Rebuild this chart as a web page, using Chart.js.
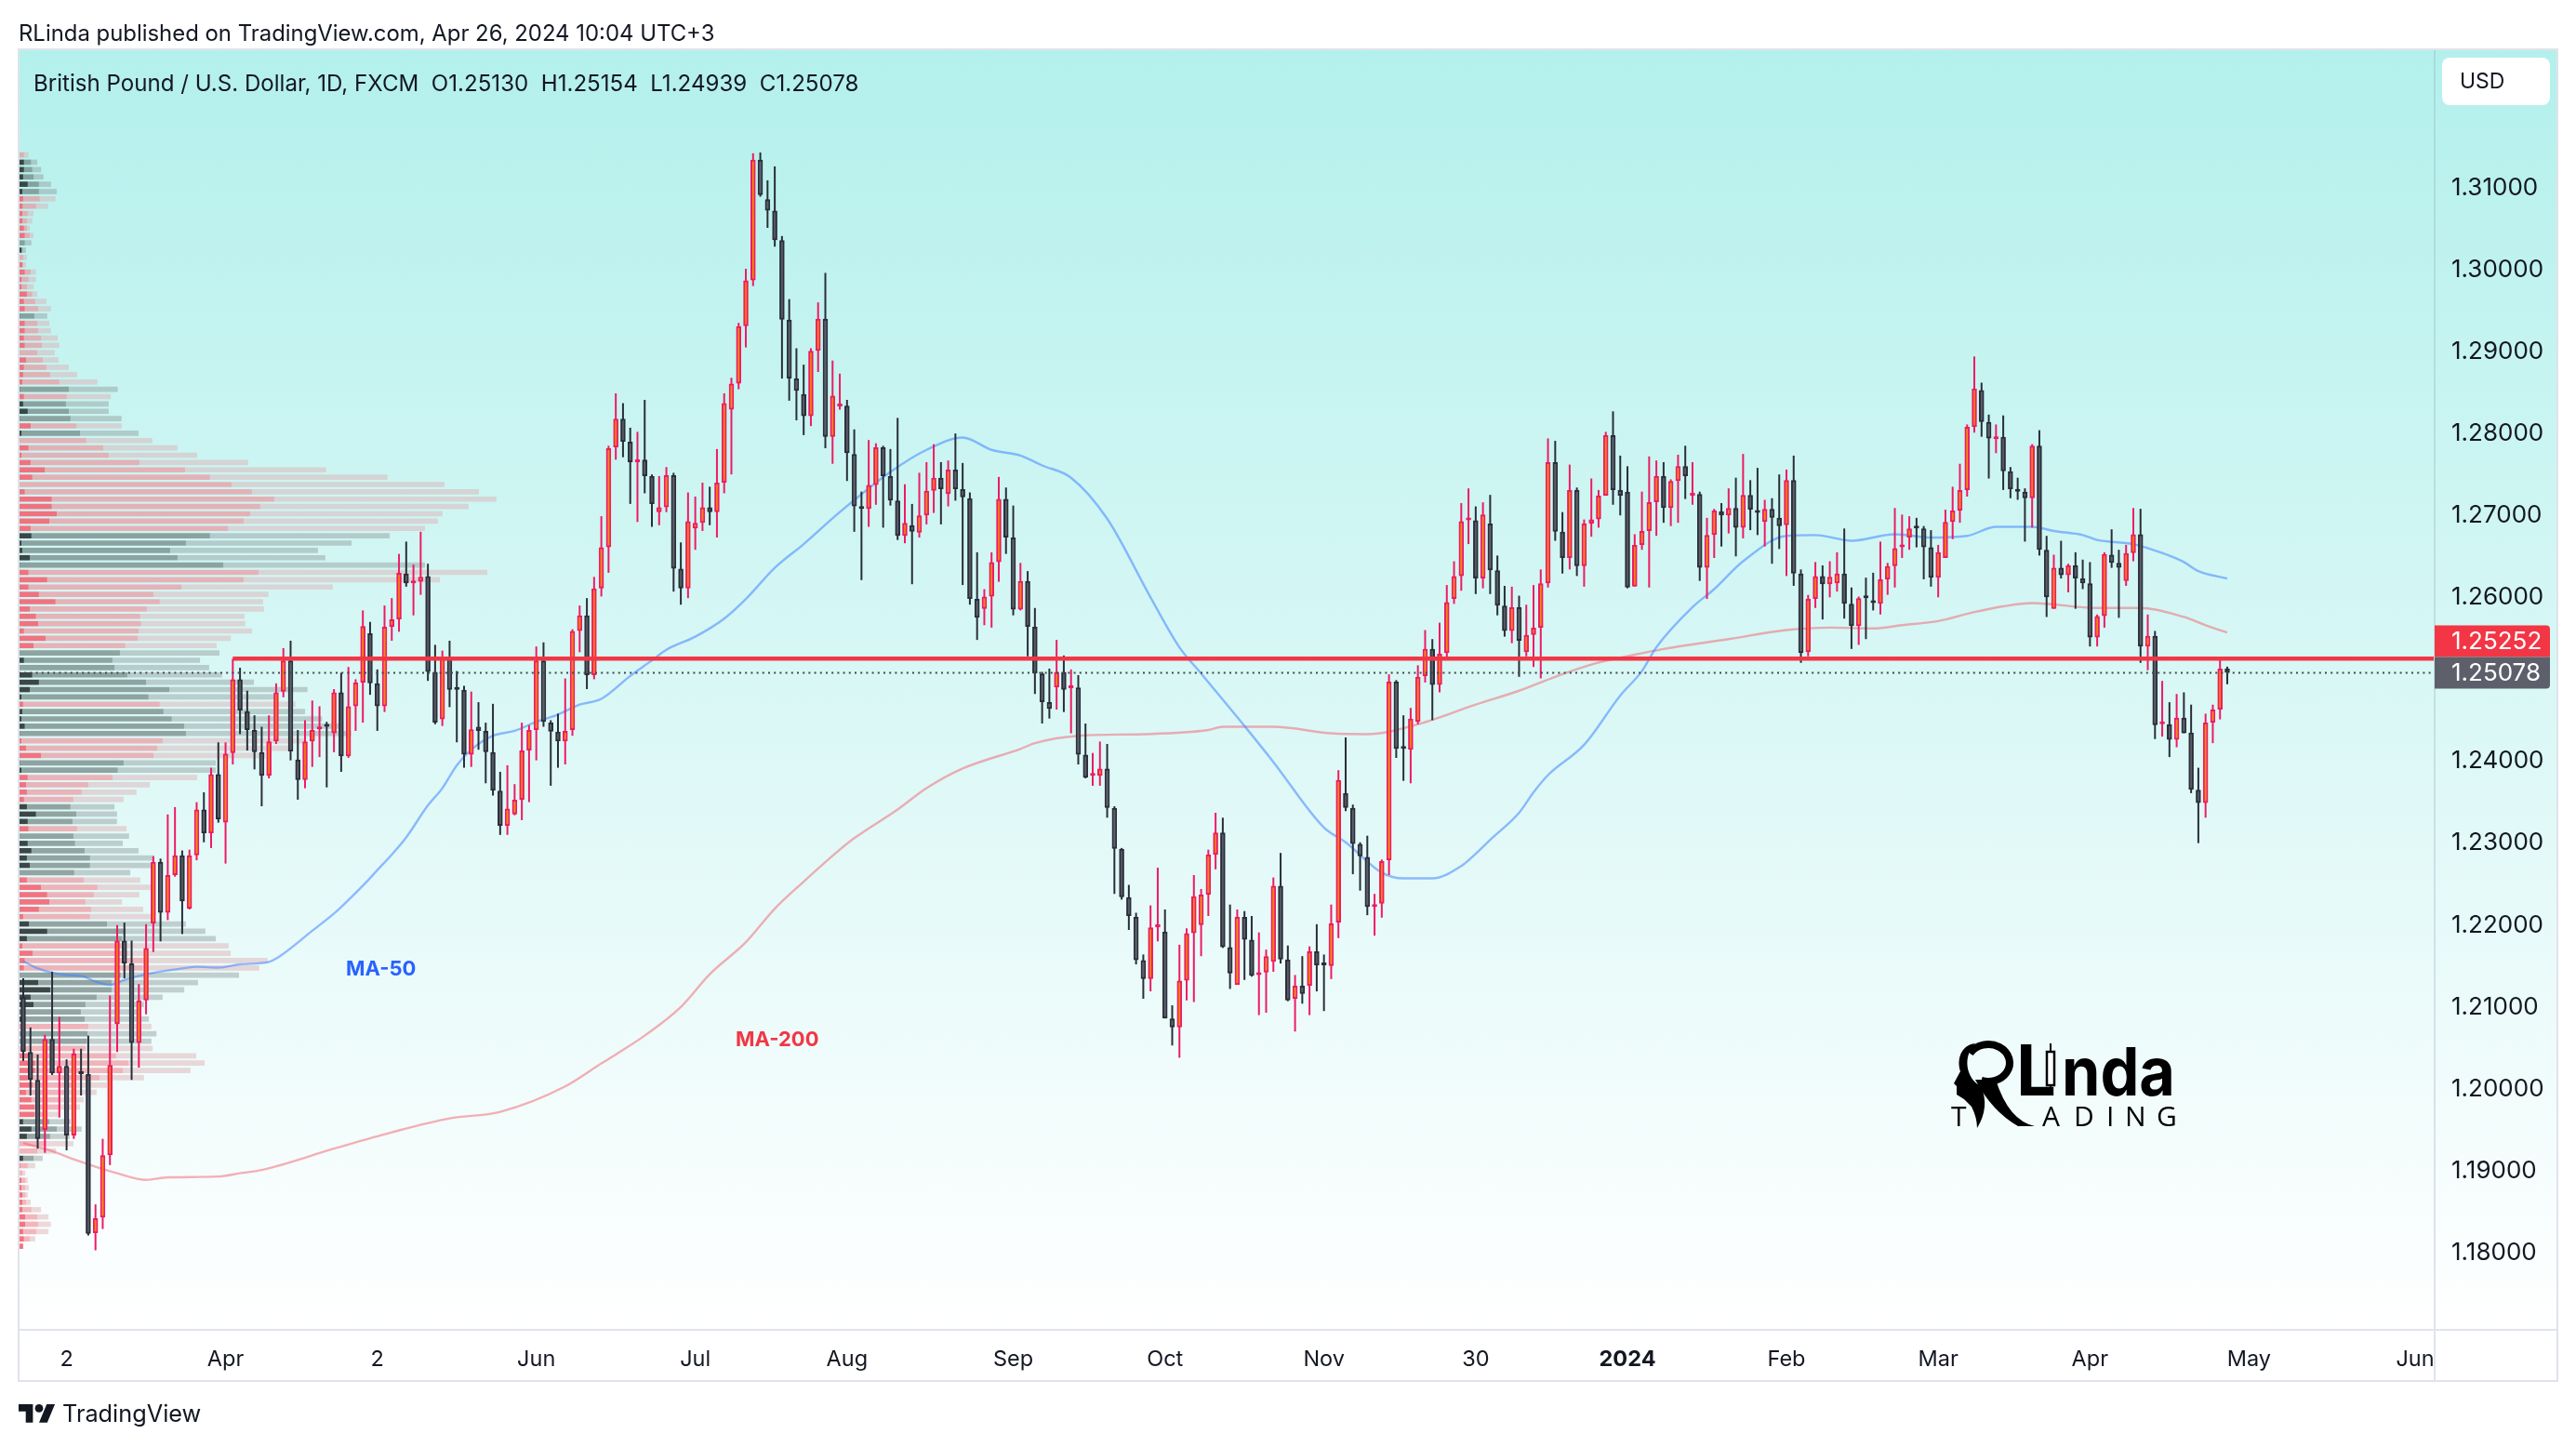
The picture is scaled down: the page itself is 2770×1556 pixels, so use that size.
<!DOCTYPE html>
<html>
<head>
<meta charset="utf-8">
<title>GBPUSD</title>
<script src="https://cdn.jsdelivr.net/npm/chart.js@4/dist/chart.umd.min.js"></script>
<style>
  body { margin: 0; background: #fff; width: 2770px; height: 1556px; overflow: hidden; position: relative; font-family: Inter, sans-serif; color: #131722; }
  canvas { display: block; }
  .txt { position: absolute; white-space: pre; line-height: 1; }
  #published { left: 20px; top: 24px; font-size: 23.9px; }
  #title { left: 36px; top: 78px; font-size: 24.1px; }
  #brand { left: 67px; top: 1507px; font-size: 25.3px; }
</style>
</head>
<body>
<canvas id="chart" width="2770" height="1556"></canvas>
<div class="txt" id="published">RLinda published on TradingView.com, Apr 26, 2024 10:04 UTC+3</div>
<div class="txt" id="title">British Pound / U.S. Dollar, 1D, FXCM  O1.25130  H1.25154  L1.24939  C1.25078</div>
<div class="txt" id="brand">TradingView</div>
<script>
'use strict';

// Daily candles

const opens = [
  1.2112,1.2045,1.2011,1.1950,1.2061,1.2019,1.2028,1.1943,1.2021,1.2018,
  1.1824,1.1843,1.1919,1.2079,1.2181,1.2153,1.2056,1.2108,1.2202,1.2277,
  1.2215,1.2261,1.2285,1.2220,1.2285,1.2341,1.2312,1.2384,1.2325,1.2410,
  1.2500,1.2461,1.2438,1.2411,1.2382,1.2424,1.2485,1.2523,1.2402,1.2377,
  1.2424,1.2439,1.2443,1.2434,1.2484,1.2406,1.2467,1.2496,1.2556,1.2495,
  1.2467,1.2564,1.2573,1.2629,1.2617,1.2619,1.2626,1.2509,1.2451,1.2527,
  1.2488,1.2487,1.2408,1.2442,1.2437,1.2411,1.2364,1.2321,1.2335,1.2353,
  1.2413,1.2438,1.2523,1.2447,1.2436,1.2424,1.2438,1.2559,1.2578,1.2505,
  1.2611,1.2661,1.2783,1.2818,1.2790,1.2765,1.2768,1.2748,1.2704,1.2710,
  1.2749,1.2635,1.2611,1.2684,1.2691,1.2710,1.2704,1.2740,1.2829,1.2861,
  1.2931,1.2987,1.3134,1.3086,1.3072,1.3036,1.2939,1.2867,1.2848,1.2821,
  1.2901,1.2940,1.2796,1.2833,1.2834,1.2775,1.2710,1.2708,1.2737,1.2783,
  1.2748,1.2718,1.2675,1.2688,1.2679,1.2700,1.2730,1.2746,1.2726,1.2756,
  1.2732,1.2721,1.2598,1.2586,1.2601,1.2643,1.2720,1.2673,1.2585,1.2620,
  1.2564,1.2507,1.2472,1.2490,1.2509,1.2489,1.2490,1.2408,1.2382,1.2382,
  1.2391,1.2343,1.2293,1.2234,1.2210,1.2157,1.2134,1.2197,1.2192,1.2086,
  1.2075,1.2132,1.2190,1.2200,1.2237,1.2286,1.2313,1.2173,1.2127,1.2210,
  1.2182,1.2139,1.2142,1.2155,1.2248,1.2158,1.2110,1.2126,1.2126,1.2168,
  1.2152,1.2150,1.2203,1.2361,1.2343,1.2299,1.2283,1.2222,1.2226,1.2279,
  1.2497,1.2416,1.2414,1.2448,1.2504,1.2537,1.2493,1.2532,1.2598,1.2626,
  1.2694,1.2694,1.2623,1.2690,1.2633,1.2590,1.2559,1.2588,1.2533,1.2554,
  1.2563,1.2617,1.2765,1.2680,1.2648,1.2731,1.2638,1.2690,1.2695,1.2724,
  1.2798,1.2731,1.2729,1.2613,1.2664,1.2681,1.2716,1.2748,1.2709,1.2742,
  1.2760,1.2724,1.2726,1.2636,1.2676,1.2705,1.2700,1.2709,1.2685,1.2725,
  1.2706,1.2692,1.2708,1.2697,1.2688,1.2743,1.2629,1.2533,1.2598,1.2626,
  1.2616,1.2617,1.2629,1.2592,1.2565,1.2600,1.2595,1.2592,1.2622,1.2638,
  1.2661,1.2673,1.2685,1.2684,1.2661,1.2624,1.2648,1.2692,1.2706,1.2731,
  1.2808,1.2853,1.2814,1.2793,1.2796,1.2754,1.2731,1.2729,1.2721,1.2785,
  1.2658,1.2586,1.2636,1.2627,1.2639,1.2623,1.2617,1.2551,1.2577,1.2652,
  1.2642,1.2620,1.2654,1.2677,1.2540,1.2553,1.2445,1.2445,1.2426,1.2453,
  1.2435,1.2365,1.2349,1.2447,1.2463,1.2513
];
const highs = [
  1.2135,1.2075,1.2042,1.2066,1.2143,1.2088,1.2036,1.2049,1.2049,1.2065,
  1.1859,1.1939,1.2114,1.2200,1.2203,1.2181,1.2128,1.2201,1.2284,1.2281,
  1.2335,1.2344,1.2291,1.2292,1.2350,1.2362,1.2392,1.2423,1.2423,1.2525,
  1.2514,1.2486,1.2456,1.2442,1.2456,1.2495,1.2538,1.2547,1.2438,1.2450,
  1.2474,1.2467,1.2448,1.2488,1.2508,1.2515,1.2500,1.2584,1.2570,1.2512,
  1.2590,1.2599,1.2653,1.2668,1.2640,1.2680,1.2641,1.2542,1.2535,1.2547,
  1.2510,1.2492,1.2485,1.2472,1.2447,1.2470,1.2387,1.2395,1.2372,1.2447,
  1.2444,1.2540,1.2545,1.2450,1.2458,1.2501,1.2561,1.2590,1.2599,1.2625,
  1.2699,1.2785,1.2849,1.2837,1.2807,1.2802,1.2841,1.2750,1.2748,1.2759,
  1.2752,1.2667,1.2728,1.2723,1.2740,1.2735,1.2781,1.2849,1.2868,1.2935,
  1.3001,1.3142,1.3143,1.3109,1.3126,1.3041,1.2964,1.2904,1.2884,1.2904,
  1.2960,1.2996,1.2889,1.2873,1.2841,1.2805,1.2729,1.2792,1.2788,1.2785,
  1.2781,1.2819,1.2738,1.2714,1.2752,1.2765,1.2787,1.2765,1.2767,1.2800,
  1.2764,1.2728,1.2655,1.2610,1.2655,1.2747,1.2734,1.2712,1.2642,1.2632,
  1.2587,1.2509,1.2513,1.2548,1.2529,1.2512,1.2505,1.2446,1.2410,1.2424,
  1.2421,1.2345,1.2294,1.2249,1.2215,1.2164,1.2224,1.2270,1.2219,1.2102,
  1.2176,1.2196,1.2261,1.2244,1.2292,1.2337,1.2331,1.2225,1.2219,1.2217,
  1.2211,1.2191,1.2170,1.2258,1.2288,1.2175,1.2139,1.2162,1.2174,1.2201,
  1.2164,1.2225,1.2389,1.2429,1.2347,1.2301,1.2309,1.2238,1.2280,1.2506,
  1.2499,1.2456,1.2465,1.2517,1.2560,1.2549,1.2569,1.2615,1.2644,1.2715,
  1.2733,1.2711,1.2716,1.2725,1.2651,1.2614,1.2613,1.2602,1.2591,1.2615,
  1.2634,1.2794,1.2791,1.2704,1.2762,1.2734,1.2695,1.2745,1.2731,1.2802,
  1.2827,1.2773,1.2760,1.2677,1.2729,1.2772,1.2767,1.2765,1.2744,1.2774,
  1.2785,1.2765,1.2729,1.2697,1.2708,1.2715,1.2733,1.2746,1.2775,1.2743,
  1.2758,1.2719,1.2721,1.2750,1.2756,1.2773,1.2634,1.2603,1.2643,1.2639,
  1.2644,1.2655,1.2684,1.2612,1.2601,1.2624,1.2630,1.2668,1.2642,1.2709,
  1.2701,1.2699,1.2697,1.2687,1.2682,1.2664,1.2707,1.2735,1.2763,1.2811,
  1.2894,1.2862,1.2823,1.2811,1.2822,1.2759,1.2746,1.2733,1.2787,1.2804,
  1.2675,1.2652,1.2669,1.2641,1.2655,1.2646,1.2643,1.2579,1.2655,1.2683,
  1.2658,1.2664,1.2709,1.2708,1.2579,1.2559,1.2498,1.2472,1.2482,1.2484,
  1.2469,1.2392,1.2458,1.2469,1.2524,1.25154
];
const lows = [
  1.2034,1.1992,1.1927,1.1922,1.2017,1.1965,1.1925,1.1939,1.1992,1.1821,
  1.1803,1.1829,1.1907,1.2045,1.2135,1.2011,1.2026,1.2091,1.2167,1.2180,
  1.2206,1.2259,1.2189,1.2219,1.2279,1.2301,1.2294,1.2325,1.2275,1.2396,
  1.2433,1.2413,1.2390,1.2345,1.2379,1.2421,1.2478,1.2401,1.2353,1.2367,
  1.2393,1.2405,1.2368,1.2411,1.2387,1.2404,1.2437,1.2447,1.2481,1.2437,
  1.2460,1.2547,1.2558,1.2613,1.2578,1.2603,1.2498,1.2445,1.2443,1.2466,
  1.2423,1.2392,1.2393,1.2414,1.2373,1.2358,1.2310,1.2310,1.2334,1.2328,
  1.2350,1.2401,1.2442,1.2370,1.2392,1.2396,1.2431,1.2533,1.2488,1.2500,
  1.2601,1.2630,1.2768,1.2771,1.2714,1.2692,1.2727,1.2686,1.2688,1.2704,
  1.2607,1.2591,1.2599,1.2658,1.2681,1.2688,1.2673,1.2727,1.2750,1.2854,
  1.2905,1.2980,1.3089,1.3051,1.3028,1.2867,1.2840,1.2816,1.2798,1.2809,
  1.2875,1.2782,1.2763,1.2829,1.2742,1.2680,1.2621,1.2686,1.2713,1.2685,
  1.2712,1.2670,1.2666,1.2616,1.2673,1.2689,1.2703,1.2689,1.2711,1.2718,
  1.2615,1.2591,1.2548,1.2566,1.2563,1.2619,1.2653,1.2578,1.2584,1.2528,
  1.2482,1.2446,1.2452,1.2463,1.2460,1.2434,1.2396,1.2379,1.2370,1.2370,
  1.2331,1.2238,1.2231,1.2194,1.2152,1.2110,1.2119,1.2180,1.2086,1.2053,
  1.2038,1.2108,1.2106,1.2162,1.2211,1.2268,1.2172,1.2122,1.2127,1.2133,
  1.2137,1.2090,1.2093,1.2143,1.2153,1.2107,1.2070,1.2104,1.2090,1.2119,
  1.2095,1.2134,1.2184,1.2339,1.2262,1.2242,1.2212,1.2187,1.2209,1.2261,
  1.2404,1.2376,1.2373,1.2445,1.2496,1.2450,1.2484,1.2525,1.2592,1.2608,
  1.2665,1.2604,1.2611,1.2604,1.2578,1.2552,1.2544,1.2503,1.2528,1.2515,
  1.2501,1.2612,1.2669,1.2629,1.2634,1.2626,1.2613,1.2674,1.2685,1.2724,
  1.2713,1.2700,1.2611,1.2613,1.2658,1.2612,1.2675,1.2691,1.2687,1.2691,
  1.2720,1.2713,1.2620,1.2598,1.2648,1.2662,1.2678,1.2650,1.2672,1.2682,
  1.2676,1.2662,1.2641,1.2659,1.2626,1.2614,1.2520,1.2528,1.2587,1.2573,
  1.2600,1.2607,1.2574,1.2537,1.2542,1.2549,1.2584,1.2579,1.2603,1.2612,
  1.2648,1.2658,1.2661,1.2622,1.2613,1.2600,1.2648,1.2671,1.2691,1.2723,
  1.2801,1.2796,1.2745,1.2776,1.2731,1.2721,1.2719,1.2668,1.2685,1.2651,
  1.2576,1.2586,1.2623,1.2606,1.2586,1.2610,1.2540,1.2540,1.2563,1.2636,
  1.2575,1.2614,1.2644,1.2520,1.2511,1.2427,1.2430,1.2405,1.2417,1.2434,
  1.2361,1.2300,1.2331,1.2422,1.2451,1.24939
];
const closes = [
  1.2045,1.2011,1.1939,1.2061,1.2019,1.2028,1.1943,1.2043,1.2018,1.1823,
  1.1842,1.1919,1.2029,1.2181,1.2153,1.2056,1.2108,1.2172,1.2277,1.2215,
  1.2261,1.2285,1.2229,1.2285,1.2341,1.2312,1.2384,1.2329,1.2409,1.2500,
  1.2462,1.2438,1.2411,1.2382,1.2424,1.2484,1.2523,1.2412,1.2377,1.2424,
  1.2438,1.2442,1.2442,1.2484,1.2406,1.2467,1.2496,1.2565,1.2495,1.2467,
  1.2564,1.2573,1.2630,1.2617,1.2619,1.2625,1.2509,1.2447,1.2527,1.2487,
  1.2487,1.2408,1.2439,1.2437,1.2411,1.2364,1.2321,1.2342,1.2353,1.2413,
  1.2438,1.2523,1.2448,1.2436,1.2424,1.2437,1.2559,1.2578,1.2505,1.2611,
  1.2661,1.2782,1.2818,1.2790,1.2765,1.2768,1.2748,1.2714,1.2710,1.2749,
  1.2635,1.2611,1.2693,1.2691,1.2710,1.2704,1.2740,1.2837,1.2861,1.2931,
  1.2987,1.3134,1.3091,1.3072,1.3036,1.2939,1.2867,1.2852,1.2821,1.2901,
  1.2940,1.2796,1.2846,1.2835,1.2776,1.2711,1.2708,1.2737,1.2783,1.2748,
  1.2718,1.2675,1.2691,1.2680,1.2700,1.2730,1.2746,1.2732,1.2756,1.2732,
  1.2722,1.2598,1.2575,1.2601,1.2643,1.2720,1.2673,1.2585,1.2620,1.2564,
  1.2507,1.2472,1.2464,1.2509,1.2487,1.2491,1.2408,1.2380,1.2383,1.2391,
  1.2343,1.2293,1.2234,1.2211,1.2157,1.2134,1.2197,1.2201,1.2086,1.2075,
  1.2132,1.2190,1.2235,1.2237,1.2286,1.2313,1.2173,1.2141,1.2210,1.2182,
  1.2138,1.2142,1.2162,1.2248,1.2158,1.2108,1.2126,1.2116,1.2168,1.2151,
  1.2151,1.2202,1.2377,1.2343,1.2299,1.2284,1.2222,1.2225,1.2278,1.2497,
  1.2415,1.2415,1.2452,1.2503,1.2537,1.2493,1.2531,1.2594,1.2626,1.2693,
  1.2695,1.2623,1.2701,1.2633,1.2590,1.2559,1.2588,1.2547,1.2554,1.2563,
  1.2617,1.2765,1.2680,1.2648,1.2731,1.2638,1.2690,1.2695,1.2724,1.2798,
  1.2731,1.2724,1.2612,1.2664,1.2681,1.2716,1.2748,1.2709,1.2742,1.2760,
  1.2748,1.2726,1.2636,1.2676,1.2706,1.2700,1.2709,1.2685,1.2725,1.2707,
  1.2703,1.2708,1.2697,1.2687,1.2743,1.2629,1.2532,1.2598,1.2626,1.2616,
  1.2625,1.2629,1.2592,1.2565,1.2599,1.2599,1.2593,1.2622,1.2638,1.2660,
  1.2663,1.2684,1.2684,1.2661,1.2624,1.2655,1.2692,1.2706,1.2731,1.2808,
  1.2855,1.2814,1.2794,1.2796,1.2754,1.2732,1.2729,1.2721,1.2785,1.2658,
  1.2600,1.2636,1.2627,1.2639,1.2623,1.2617,1.2551,1.2577,1.2653,1.2642,
  1.2636,1.2654,1.2677,1.2540,1.2553,1.2444,1.2446,1.2426,1.2453,1.2434,
  1.2365,1.2349,1.2447,1.2463,1.2513,1.25078
];

// Moving averages: bar number and value at points
const ma50Index = [0,2,6,8,10,12,14,17,22,24,27,30,34,35,40,43,44,47,49,51,53,56,58,60,62,65,68,71,74,77,80,84,87,89,93,97,100,104,108,113,120,125,130,134,138,141,145,150,156,160,163,169,173,180,183,188,191,195,199,201,203,207,209,211,216,221,224,226,231,234,238,244,248,253,259,264,269,273,278,281,285,287,292,296,299,301,305];
const ma50Values = [1.2156,1.2147,1.2139,1.2138,1.2131,1.2127,1.2133,1.2140,1.2147,1.2149,1.2148,1.2152,1.2155,1.2159,1.2193,1.2214,1.2222,1.2248,1.2267,1.2286,1.2307,1.2346,1.2367,1.2395,1.2414,1.2431,1.2437,1.2448,1.2457,1.2469,1.2476,1.2504,1.2523,1.2536,1.2552,1.2574,1.2598,1.2636,1.2665,1.2704,1.2753,1.2780,1.2795,1.2780,1.2773,1.2761,1.2746,1.2696,1.2600,1.2539,1.2507,1.2443,1.2399,1.2319,1.2301,1.2264,1.2257,1.2257,1.2272,1.2287,1.2304,1.2337,1.2362,1.2383,1.2420,1.2480,1.2510,1.2539,1.2588,1.2610,1.2644,1.2675,1.2676,1.2669,1.2677,1.2673,1.2675,1.2686,1.2686,1.2681,1.2676,1.2670,1.2665,1.2654,1.2643,1.2632,1.2623];
const ma200Index = [0,4,7,10,13,17,20,27,30,33,43,51,59,66,75,80,82,86,91,95,100,104,108,113,115,121,125,130,138,140,146,155,164,166,173,181,186,193,201,207,212,217,223,227,236,244,250,256,260,265,270,274,278,287,293,299,302,305];
const ma200Values = [1.1934,1.1924,1.1914,1.1905,1.1897,1.1889,1.1892,1.1893,1.1897,1.1901,1.1927,1.1947,1.1964,1.1972,1.2003,1.2031,1.2042,1.2065,1.2100,1.2140,1.2179,1.2220,1.2253,1.2292,1.2306,1.2341,1.2367,1.2391,1.2415,1.2422,1.2431,1.2433,1.2438,1.2442,1.2442,1.2434,1.2433,1.2445,1.2469,1.2486,1.2503,1.2518,1.2530,1.2537,1.2549,1.2560,1.2563,1.2562,1.2566,1.2571,1.2582,1.2589,1.2593,1.2587,1.2587,1.2576,1.2566,1.2557];

// Levels
const resistance = 1.25252;
const resistanceStart = 29;
const lastClose = 1.25078;

// Volume profile rows, top to bottom. r is a red row, d a dark one.
// core, mid and total are the running ends of the three shades of each row
const profileTop = 1.3140;
const profileStep = 0.000894;
const profileSide = 'r ddddd rrrrrr dd rrrrrrrr d rrrrrrr rr d r ddd r d r rrrrrrrrrrrr ddddd rrrrrrrrrrr ddddddd r dddd rrr dd rrrr ddd r dddddd rrrrrr ddd rrrr ddddddd r dd rrrrrrrrrr ddd rr d rrrrrrrrrrrr'.replace(/ /g, '').split('');
const coreVol = [
  0,13,13,11,22,9,11,10,9,9, 13,15,0,7,0,9,15,7,7,20,
  13,15,3,15,15,13,15,0,18,13, 11,9,3,13,11,22,3,29,7,3,
  24,7,29,63,33,0,15,80,80,92, 74,29,31,7,9,27,3,24,69,24,
  49,89,27,42,47,13,65,36,0,13, 0,33,49,27,7,11,9,7,15,3,
  7,18,54,3,7,22,18,20,13,20, 42,22,24,0,22,31,20,27,0,20,
  54,69,74,49,11,25,69,20,9,34, 15,13,0,47,76,29,36,4,13,4,
  2,2,2,26,40,40,22,34,18,31, 38,38,11,31,20,3,0,11,4,0,
  7,7,9,9,9,16,16,11,13,11
];
const midVol = [
  13,30,33,36,49,49,51,42,22,20, 20,27,15,10,11,11,29,24,20,33,
  40,47,38,45,47,54,56,45,58,67, 76,98,121,116,114,121,125,139,148,163,
  204,217,291,401,461,513,562,616,582,558, 542,504,461,403,365,383,493,578,542,392,
  325,340,309,293,295,289,287,257,244,226, 231,262,307,363,313,340,349,369,399,403,
  347,334,325,253,239,226,168,152,132,125, 139,130,141,132,136,159,172,172,134,157,
  190,181,161,175,172,213,258,249,250,262, 300,298,246,224,224,188,161,150,159,168,
  166,164,161,235,264,251,195,134,112,97, 97,70,74,92,76,67,45,36,22,9,
  16,16,16,18,31,45,47,43,27,11
];
const totalVol = [
  24,45,54,60,78,92,89,71,36,33, 27,36,31,18,20,18,42,42,36,45,
  67,78,69,74,78,94,98,87,96,121, 141,190,239,222,217,217,248,248,289,322,
  383,430,553,741,889,1026,1109,1151,1084,1021, 1010,979,894,802,721,739,979,1129,1015,757,
  602,589,591,544,546,562,511,477,484,437, 459,490,567,696,620,667,690,731,781,801,
  690,655,595,475,475,430,316,284,253,231, 237,237,260,266,251,289,327,318,269,293,
  325,291,249,300,325,403,450,475,506,511, 600,580,531,432,399,347,302,291,314,320,
  332,320,323,428,448,414,302,213,188,157, 148,99,125,152,123,132,90,58,40,16,
  22,25,22,29,54,72,78,72,40,11
];

// Axis ticks
const priceTicks = [1.18, 1.19, 1.20, 1.21, 1.22, 1.23, 1.24, 1.26, 1.27, 1.28, 1.29, 1.30, 1.31];
const timeTickBars = [6, 28, 49, 71, 93, 114, 137, 158, 180, 201, 222, 244, 265, 286, 308, 331];
const timeTickLabels = ['2', 'Apr', '2', 'Jun', 'Jul', 'Aug', 'Sep', 'Oct', 'Nov', '30', '2024', 'Feb', 'Mar', 'Apr', 'May', 'Jun'];

const upBorder = '#EE1B63';
const upFill = '#F98A00';
const downBorder = '#2A2E39';
const downFill = '#5D606B';
const lineGrey = '#E0E3EB';

const isUp = opens.map((o, i) => closes[i] >= o);
const profileColor = (red, dark) => profileSide.map(s => (s === 'r' ? red : dark));
const profilePrice = profileSide.map((_, j) => profileTop - j * profileStep);

// Plot background, frame, price tags and the drawn pieces of the page
const pagePlugin = {
  id: 'page',
  beforeDraw(chart) {
    const ctx = chart.ctx;
    const g = ctx.createLinearGradient(0, 54, 0, 1430);
    g.addColorStop(0, '#B3F0EC');
    g.addColorStop(1, '#FFFFFF');
    ctx.fillStyle = g;
    ctx.fillRect(20, 54, 2730, 1376);
  },
  afterDraw(chart) {
    const ctx = chart.ctx;
    ctx.save();
    drawFrame(ctx);
    drawPriceTags(ctx, chart.scales.y);
    drawUsdBox(ctx);
    ctx.textAlign = 'left';
    ctx.textBaseline = 'middle';
    ctx.font = 'bold 22px Inter';
    ctx.fillStyle = '#2962FF';
    ctx.fillText('MA-50', 372, 1042);
    ctx.fillStyle = '#F23645';
    ctx.fillText('MA-200', 791, 1118);
    drawLogo(ctx);
    drawBrandIcon(ctx);
    ctx.restore();
  }
};

function drawFrame(ctx) {
  ctx.fillStyle = lineGrey;
  ctx.fillRect(19, 52, 2732, 2);
  ctx.fillRect(19, 52, 2, 1434);
  ctx.fillRect(20, 1429, 2730, 2);
  ctx.fillRect(19, 1484, 2732, 2);
  ctx.fillRect(2749, 52, 2, 1434);
  ctx.fillRect(2617, 1430, 2, 55);
  const g = ctx.createLinearGradient(0, 54, 0, 1430);
  g.addColorStop(0, '#A6DCDA');
  g.addColorStop(1, lineGrey);
  ctx.fillStyle = g;
  ctx.fillRect(2617, 54, 2, 1376);
}

function drawPriceTags(ctx, y) {
  const mid = y.getPixelForValue(lastClose);
  ctx.font = '26px Inter';
  ctx.textAlign = 'left';
  ctx.textBaseline = 'middle';
  ctx.fillStyle = '#F23645';
  ctx.beginPath();
  ctx.roundRect(2618, mid - 51, 124, 34, [0, 4, 0, 0]);
  ctx.fill();
  ctx.fillStyle = '#5D606B';
  ctx.beginPath();
  ctx.roundRect(2618, mid - 17, 124, 34, [0, 0, 4, 0]);
  ctx.fill();
  ctx.fillStyle = '#FFFFFF';
  ctx.fillText(resistance.toFixed(5), 2636, mid - 33);
  ctx.fillText(lastClose.toFixed(5), 2636, mid + 1);
}

function drawUsdBox(ctx) {
  ctx.fillStyle = '#FFFFFF';
  ctx.beginPath();
  ctx.roundRect(2626, 62, 116, 51, 8);
  ctx.fill();
  ctx.fillStyle = '#131722';
  ctx.font = '23px Inter';
  ctx.textAlign = 'left';
  ctx.textBaseline = 'middle';
  ctx.fillText('USD', 2645, 88);
}

function drawLogo(ctx) {
  ctx.fillStyle = '#000000';
  ctx.strokeStyle = '#000000';
  // head and hair
  ctx.beginPath();
  ctx.moveTo(2124, 1122);
  ctx.bezierCurveTo(2108, 1124, 2104, 1140, 2108, 1152);
  ctx.lineTo(2101, 1165);
  ctx.lineTo(2104, 1168);
  ctx.lineTo(2104, 1177);
  ctx.lineTo(2112, 1182);
  ctx.lineTo(2120, 1190);
  ctx.quadraticCurveTo(2126, 1202, 2126, 1213);
  ctx.quadraticCurveTo(2140, 1190, 2130, 1168);
  ctx.bezierCurveTo(2114, 1160, 2110, 1136, 2124, 1122);
  ctx.fill();
  // the big R
  ctx.lineWidth = 8;
  ctx.beginPath();
  ctx.ellipse(2138, 1143, 23, 20, 0, -2.6, 1.9);
  ctx.stroke();
  ctx.beginPath();
  ctx.moveTo(2124, 1161);
  ctx.lineTo(2146, 1161);
  ctx.quadraticCurveTo(2160, 1205, 2188, 1211);
  ctx.lineTo(2170, 1211);
  ctx.quadraticCurveTo(2142, 1195, 2124, 1161);
  ctx.fill();
  // candle standing in for the i
  ctx.fillRect(2204, 1122, 2, 56);
  ctx.fillStyle = '#FFFFFF';
  ctx.lineWidth = 2.5;
  ctx.fillRect(2201, 1131, 8, 36);
  ctx.strokeRect(2201, 1131, 8, 36);
  ctx.fillStyle = '#000000';
  ctx.textAlign = 'left';
  ctx.textBaseline = 'alphabetic';
  ctx.font = 'bold 76px Inter';
  ctx.fillText('L', 2168, 1178);
  ctx.font = 'bold 72px Inter';
  ctx.fillText('nda', 2217, 1178, 122);
  ctx.font = '30px "Open Sans"';
  ctx.fillText('T', 2098, 1211);
  [['A', 2196], ['D', 2230], ['I', 2265], ['N', 2285], ['G', 2319]].forEach(([c, x]) => ctx.fillText(c, x, 1211));
}

function drawBrandIcon(ctx) {
  ctx.save();
  ctx.translate(20, 1505.6);
  ctx.scale(1.1, 1.1);
  ctx.fillStyle = '#131722';
  ctx.fill(new Path2D('M14 22H7V11H0V4h14v18zM28 22h-8l7.5-18h8L28 22z'));
  ctx.beginPath();
  ctx.arc(20, 8, 4, 0, Math.PI * 2);
  ctx.fill();
  ctx.restore();
}

const profileOptions = { type: 'bar', indexAxis: 'y', xAxisID: 'xProfile', yAxisID: 'yProfile', grouped: false, maxBarThickness: 6, borderWidth: 0 };

new Chart(document.getElementById('chart'), {
  type: 'bar',
  plugins: [pagePlugin],
  data: {
    datasets: [
      Object.assign({}, profileOptions, {
        label: 'Profile core',
        order: 8,
        data: coreVol.map((v, j) => ({ x: [0, v], y: profilePrice[j] })),
        backgroundColor: profileColor('rgba(243,100,115,0.9)', 'rgba(45,55,55,0.92)')
      }),
      Object.assign({}, profileOptions, {
        label: 'Profile mid',
        order: 9,
        data: midVol.map((v, j) => ({ x: [coreVol[j], v], y: profilePrice[j] })),
        backgroundColor: profileColor('rgba(240,133,144,0.6)', 'rgba(104,122,119,0.67)')
      }),
      Object.assign({}, profileOptions, {
        label: 'Profile outer',
        order: 10,
        data: totalVol.map((v, j) => ({ x: [midVol[j], v], y: profilePrice[j] })),
        backgroundColor: profileColor('rgba(223,174,178,0.47)', 'rgba(149,161,161,0.49)')
      }),
      {
        type: 'line',
        label: 'MA-50',
        order: 6,
        data: ma50Index.map((b, k) => ({ x: b, y: ma50Values[k] })),
        borderColor: 'rgba(66,133,255,0.55)',
        borderWidth: 2.4,
        pointRadius: 0,
        cubicInterpolationMode: 'monotone'
      },
      {
        type: 'line',
        label: 'MA-200',
        order: 7,
        data: ma200Index.map((b, k) => ({ x: b, y: ma200Values[k] })),
        borderColor: 'rgba(242,80,95,0.45)',
        borderWidth: 2.4,
        pointRadius: 0,
        cubicInterpolationMode: 'monotone'
      },
      {
        label: 'Wicks',
        order: 5,
        grouped: false,
        maxBarThickness: 2,
        data: highs.map((h, i) => ({ x: i, y: [lows[i], h] })),
        backgroundColor: isUp.map(u => (u ? upBorder : downBorder)),
        borderWidth: 0
      },
      {
        label: 'Bodies',
        order: 4,
        grouped: false,
        maxBarThickness: 6,
        minBarLength: 3,
        data: opens.map((o, i) => ({ x: i, y: [o, closes[i]] })),
        backgroundColor: isUp.map(u => (u ? upFill : downFill)),
        borderColor: isUp.map(u => (u ? upBorder : downBorder)),
        borderWidth: 2,
        borderSkipped: false
      },
      {
        type: 'line',
        label: 'Last close',
        order: 2,
        data: [{ x: -0.64, y: lastClose }, { x: 333.7, y: lastClose }],
        borderColor: '#434651',
        borderWidth: 2,
        borderDash: [2, 4.2],
        pointRadius: 0
      },
      {
        type: 'line',
        label: 'Resistance',
        order: 1,
        data: [{ x: resistanceStart, y: resistance }, { x: 333.7, y: resistance }],
        borderColor: '#F23645',
        borderWidth: 4.5,
        pointRadius: 0
      }
    ]
  },
  options: {
    responsive: false,
    animation: false,
    devicePixelRatio: 1,
    events: [],
    layout: { padding: { left: 20, top: 54, right: 20, bottom: 71 } },
    plugins: { legend: { display: false }, tooltip: { enabled: false } },
    scales: {
      x: {
        type: 'linear',
        min: -0.64,
        max: 333.7,
        offset: false,
        grid: { display: false },
        border: { display: false },
        afterBuildTicks(scale) { scale.ticks = timeTickBars.map(v => ({ value: v })); },
        afterFit(scale) { scale.height = 55; },
        ticks: {
          autoSkip: false,
          maxRotation: 0,
          padding: 10,
          color: '#131722',
          font: c => ({ family: 'Inter', size: 23.5, weight: c.tick && c.tick.value === 222 ? 'bold' : 'normal' }),
          callback: v => timeTickLabels[timeTickBars.indexOf(v)]
        }
      },
      y: {
        position: 'right',
        min: 1.17059,
        max: 1.32678,
        grid: { display: false },
        border: { display: false },
        afterBuildTicks(scale) { scale.ticks = priceTicks.map(v => ({ value: v })); },
        afterFit(scale) { scale.width = 132; },
        ticks: {
          autoSkip: false,
          padding: 10,
          color: '#131722',
          font: { family: 'Inter', size: 26 },
          callback: v => v.toFixed(5)
        }
      },
      xProfile: { type: 'linear', display: false, min: 0, max: 5820, offset: false, grid: { display: false } },
      yProfile: { type: 'linear', display: false, min: 1.17059, max: 1.32678, offset: false, grid: { display: false } }
    }
  }
});
</script>
</body>
</html>
